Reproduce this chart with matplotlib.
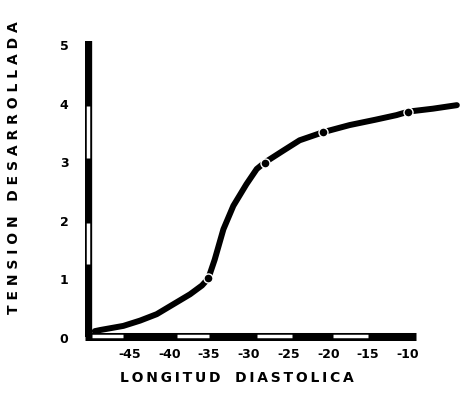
import matplotlib
matplotlib.use('Agg')
import matplotlib.pyplot as plt

# Curve (longitud diastolica vs tension desarrollada)
longitud = [-49.4, -48.7, -45.8, -43.7, -41.6, -39.5, -37.4, -35.9, -35.1, -34.3,
            -33.2, -31.95, -30.3, -29.0, -28.0, -25.7, -23.6, -20.6, -17.3, -14.1,
            -11.4, -9.9, -6.8, -3.8]
tension = [0.10, 0.12, 0.19, 0.28, 0.39, 0.56, 0.73, 0.88, 1.00, 1.32,
           1.84, 2.24, 2.61, 2.87, 2.98, 3.18, 3.36, 3.50, 3.62, 3.71,
           3.79, 3.85, 3.90, 3.96]

# measured points shown as dots on the curve
punto_x = [-35.1, -28.0, -20.6, -9.9]
punto_y = [1.00, 2.98, 3.50, 3.85]

x_ticks = [-45, -40, -35, -30, -25, -20, -15, -10]
y_ticks = [0, 1, 2, 3, 4, 5]

# alternating white bands inside the thick axis bars
x_bandas = [(-49.7, -45.8), (-39.0, -35.0), (-29.0, -24.5), (-19.4, -15.0)]
y_bandas = [(3.05, 3.95), (1.25, 1.95)]

W, H = 463, 402
fig = plt.figure(figsize=(W / 100, H / 100), dpi=100)
ax = fig.add_axes([85 / W, 1 - 342 / H, (462 - 85) / W, (342 - 40) / H])
ax.set_xlim(-50.63, -3.15)
ax.set_ylim(-0.068, 5.09)
for s in ax.spines.values():
    s.set_visible(False)

# thick hand-drawn axes
ax.plot([-50.2, -50.2], [0.0, 5.05], color='black', lw=6, solid_capstyle='butt', zorder=2)
ax.plot([-50.6, -9.0], [0.0, 0.0], color='black', lw=6.5, solid_capstyle='butt', zorder=2)
for a, b in y_bandas:
    ax.plot([-50.2, -50.2], [a, b], color='white', lw=2.5, solid_capstyle='butt', zorder=3)
for a, b in x_bandas:
    ax.plot([a, b], [0.02, 0.02], color='white', lw=2.5, solid_capstyle='butt', zorder=3)

ax.plot(longitud, tension, color='black', lw=4.3, solid_capstyle='round',
        solid_joinstyle='round', zorder=4)
ax.plot(punto_x, punto_y, 'o', color='black', ms=6.5, mec='white', mew=1.0, zorder=5)

ax.set_xticks(x_ticks)
ax.set_xticklabels([str(t) for t in x_ticks], fontsize=9, fontweight='bold')
ax.set_yticks(y_ticks)
ax.set_yticklabels([str(t) for t in y_ticks], fontsize=9, fontweight='bold')
ax.tick_params(length=0, pad=4)
ax.tick_params(axis='y', pad=12)

thin = '\u2009'
fig.text(120 / W, 1 - 378 / H, thin.join('LONGITUD') + '   ' + thin.join('DIASTOLICA'),
         fontsize=10, fontweight='bold', ha='left', va='center')
fig.text(14 / W, 1 - 168 / H, 'T E N S I O N   D E S A R R O L L A D A', fontsize=10,
         fontweight='bold', rotation=90, ha='center', va='center')

fig.savefig('out.png', dpi=100)
